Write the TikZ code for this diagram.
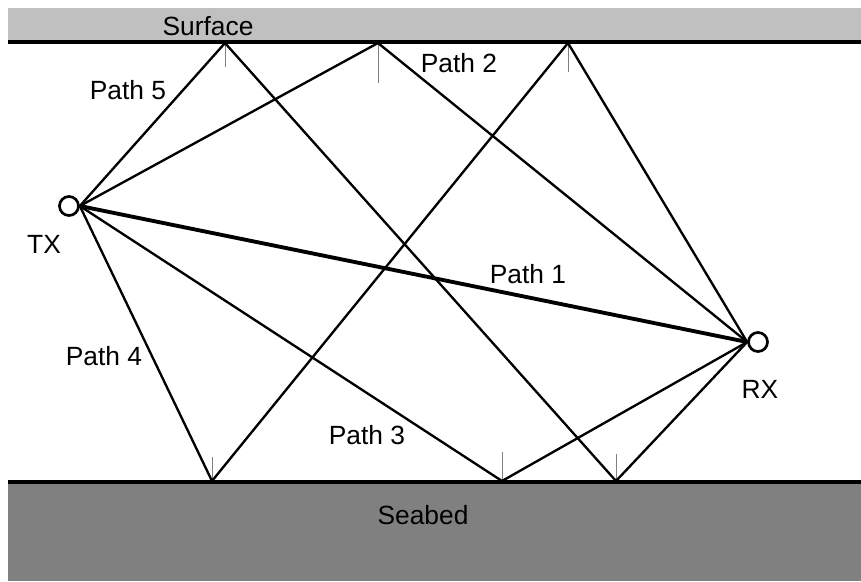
\documentclass[tikz,border=0pt]{standalone}
\usepackage{fontspec}
\setmainfont{Liberation Sans}
\definecolor{surfacegray}{HTML}{C0C0C0}
\definecolor{seabedgray}{HTML}{808080}
\begin{document}
\begin{tikzpicture}[x=0.03cm,y=-0.03cm,
        ray/.style={line width=2pt},
        direct/.style={line width=3.3pt},
        normalline/.style={gray,line width=0.7pt},
        boundary/.style={line width=2.8pt},
        station/.style={circle,draw,line width=2.3pt,minimum size=0.57cm,inner sep=0pt},
        lbl/.style={font=\fontsize{22.5}{26}\selectfont}]
        \useasboundingbox(0,0)rectangle(861,581);
        % surface and seabed
        \fill[surfacegray](8,8)rectangle(861,42);
        \fill[seabedgray](8,482)rectangle(861,581);
        \draw[boundary](8,42)--(861,42);
        \draw[boundary](8,482)--(861,482);
        \node[lbl](surfacelbl)at(208,26){Surface};
        \node[lbl](seabedlbl)at(423,515){Seabed};
        % transmitter and receiver
        \node[station](tx)at(69,206){};
        \node[station](rx)at(758,342){};
        \node[lbl](txlbl)at(44,244){TX};
        \node[lbl](rxlbl)at(760,389){RX};
        % reflection points
        \coordinate(s1)at(225,43);
        \coordinate(s2)at(378,43);
        \coordinate(s3)at(568,43);
        \coordinate(b1)at(212,481);
        \coordinate(b2)at(502,481);
        \coordinate(b3)at(616,481);
        % normals
        \draw[normalline](s1)--++(0,24);
        \draw[normalline](s2)--++(0,40);
        \draw[normalline](s3)--++(0,29);
        \draw[normalline](b1)--++(0,-24);
        \draw[normalline](b2)--++(0,-29);
        \draw[normalline](b3)--++(0,-27);
        % paths
        \draw[direct](tx.east)--(rx.west);
        \draw[ray](tx.east)--(s2)--(rx.west);
        \draw[ray](tx.east)--(b2)--(rx.west);
        \draw[ray](tx.east)--(b1)--(s3)--(rx.west);
        \draw[ray](tx.east)--(s1)--(b3)--(rx.west);
        \node[lbl](path1)at(528,274){Path 1};
        \node[lbl](path2)at(459,63){Path 2};
        \node[lbl](path3)at(367,435){Path 3};
        \node[lbl](path4)at(104,356){Path 4};
        \node[lbl](path5)at(128,90){Path 5};
\end{tikzpicture}
\end{document}
